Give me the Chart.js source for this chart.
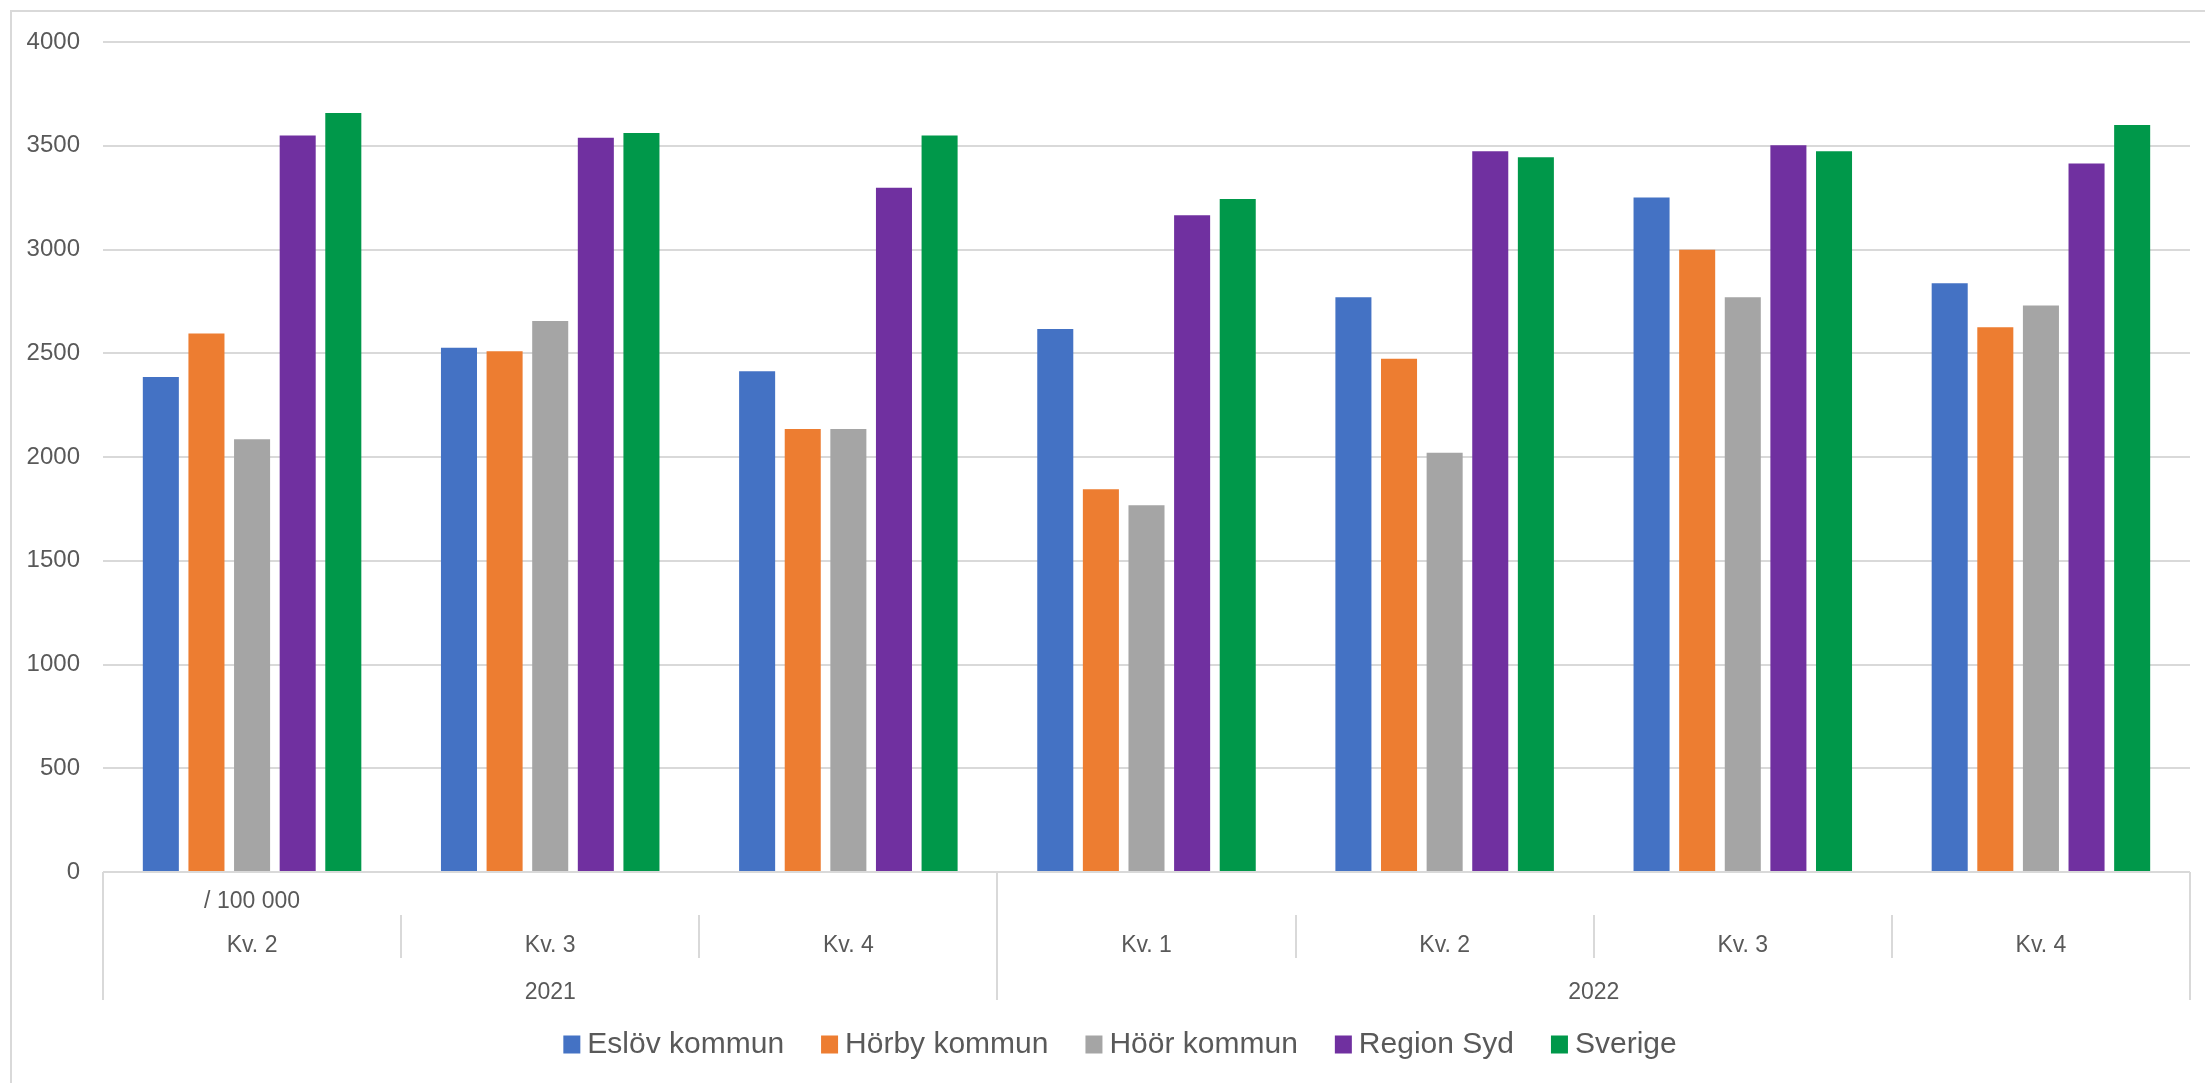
<!DOCTYPE html>
<html>
<head>
<meta charset="utf-8">
<script src="https://cdn.jsdelivr.net/npm/chart.js@4/dist/chart.umd.min.js"></script>
<style>
  html, body { margin: 0; padding: 0; background: #ffffff; }
  canvas { display: block; }
</style>
</head>
<body>
<canvas id="chart" width="2205" height="1083"></canvas>
<script>
// Quarters and years on the category axis
const quarters = ["Kv. 2", "Kv. 3", "Kv. 4", "Kv. 1", "Kv. 2", "Kv. 3", "Kv. 4"];
const years = ["2021", "2022"];
const yearSpans = [3, 4];
const unitLabel = "/ 100 000";

// Rate per 100 000 inhabitants
const eslov = [2386, 2527, 2413, 2617, 2770, 3251, 2837];
const horby = [2595, 2510, 2135, 1845, 2473, 2999, 2625];
const hoor = [2086, 2656, 2135, 1768, 2020, 2770, 2730];
const regionSyd = [3550, 3539, 3298, 3165, 3473, 3502, 3415];
const sverige = [3658, 3561, 3550, 3243, 3444, 3473, 3600];

const seriesNames = ["Eslöv kommun", "Hörby kommun", "Höör kommun", "Region Syd", "Sverige"];
const seriesColors = ["#4472C4", "#ED7D31", "#A5A5A5", "#7030A0", "#00984A"];

// y axis ticks
const yMin = 0, yMax = 4000, yStep = 500;

const TEXT = "#595959";
const LINE = "#d9d9d9";
const FONT = "'Liberation Sans', Arial, sans-serif";

const frame = {
  id: "frame",
  beforeDraw(chart) {
    const ctx = chart.ctx;
    ctx.save();
    ctx.strokeStyle = LINE;
    ctx.lineWidth = 2;
    ctx.beginPath();
    ctx.moveTo(11, chart.height + 5);
    ctx.lineTo(11, 11);
    ctx.lineTo(chart.width + 5, 11);
    ctx.stroke();
    ctx.restore();
  }
};

// Two-level category axis: quarters with a unit note, then years
const categoryAxis = {
  id: "categoryAxis",
  afterDraw(chart) {
    const ctx = chart.ctx;
    const x = chart.scales.x;
    const n = quarters.length;
    const catW = (x.right - x.left) / n;
    const top = x.top;
    ctx.save();
    ctx.strokeStyle = LINE;
    ctx.lineWidth = 2;
    // separators
    let yearEdges = [0];
    let acc = 0;
    yearSpans.forEach(s => { acc += s; yearEdges.push(acc); });
    for (let i = 0; i <= n; i++) {
      const px = Math.round(x.left + i * catW);
      ctx.beginPath();
      if (yearEdges.includes(i)) {
        ctx.moveTo(px, top);
        ctx.lineTo(px, top + 128);
      } else {
        ctx.moveTo(px, top + 43);
        ctx.lineTo(px, top + 86);
      }
      ctx.stroke();
    }
    ctx.fillStyle = TEXT;
    ctx.textAlign = "center";
    ctx.textBaseline = "middle";
    ctx.font = "23px " + FONT;
    // unit note under the first category
    ctx.fillText(unitLabel, x.getPixelForValue(0), top + 30);
    quarters.forEach((q, i) => {
      ctx.fillText(q, x.getPixelForValue(i), top + 74);
    });
    // years
    let start = 0;
    years.forEach((yv, k) => {
      const end = start + yearSpans[k];
      const cx = x.left + (start + end) / 2 * catW;
      ctx.fillText(yv, cx, top + 121);
      start = end;
    });
    ctx.restore();
  }
};

// Legend row at the bottom
const legendRow = {
  id: "legendRow",
  afterDraw(chart) {
    const ctx = chart.ctx;
    ctx.save();
    ctx.font = "30px " + FONT;
    ctx.textBaseline = "middle";
    ctx.textAlign = "left";
    const box = 17, gapText = 7, gapItem = 37;
    const items = chart.data.datasets.map(d => ({ label: d.label, color: d.backgroundColor, w: ctx.measureText(d.label).width }));
    let total = 0;
    items.forEach((it, i) => { total += box + gapText + it.w + (i < items.length - 1 ? gapItem : 0); });
    let cx = 1120 - total / 2;
    const cy = 1045;
    items.forEach(it => {
      ctx.fillStyle = it.color;
      ctx.fillRect(cx, cy - box / 2 - 1, box, box + 1);
      ctx.fillStyle = TEXT;
      ctx.fillText(it.label, cx + box + gapText, cy);
      cx += box + gapText + it.w + gapItem;
    });
    ctx.restore();
  }
};

const seriesData = [eslov, horby, hoor, regionSyd, sverige];

new Chart(document.getElementById("chart"), {
  type: "bar",
  data: {
    labels: quarters,
    datasets: seriesNames.map((name, i) => ({
      label: name,
      data: seriesData[i],
      backgroundColor: seriesColors[i],
      borderWidth: 0,
      categoryPercentage: 0.765,
      barPercentage: 0.79
    }))
  },
  options: {
    responsive: false,
    animation: false,
    devicePixelRatio: 1,
    layout: { padding: { left: 0, right: 15, top: 42, bottom: 0 } },
    plugins: {
      legend: { display: false },
      tooltip: { enabled: false }
    },
    scales: {
      x: {
        grid: { display: false },
        border: { display: false },
        ticks: { display: false },
        afterFit(scale) { scale.height = 211; }
      },
      y: {
        min: yMin,
        max: yMax,
        ticks: {
          stepSize: yStep,
          color: TEXT,
          font: { family: FONT, size: 24 },
          padding: 23,
          callback: (v) => String(v)
        },
        grid: { color: LINE, lineWidth: 2, drawTicks: false },
        border: { display: false },
        afterFit(scale) { scale.width = 103; }
      }
    }
  },
  plugins: [frame, categoryAxis, legendRow]
});
</script>
</body>
</html>
